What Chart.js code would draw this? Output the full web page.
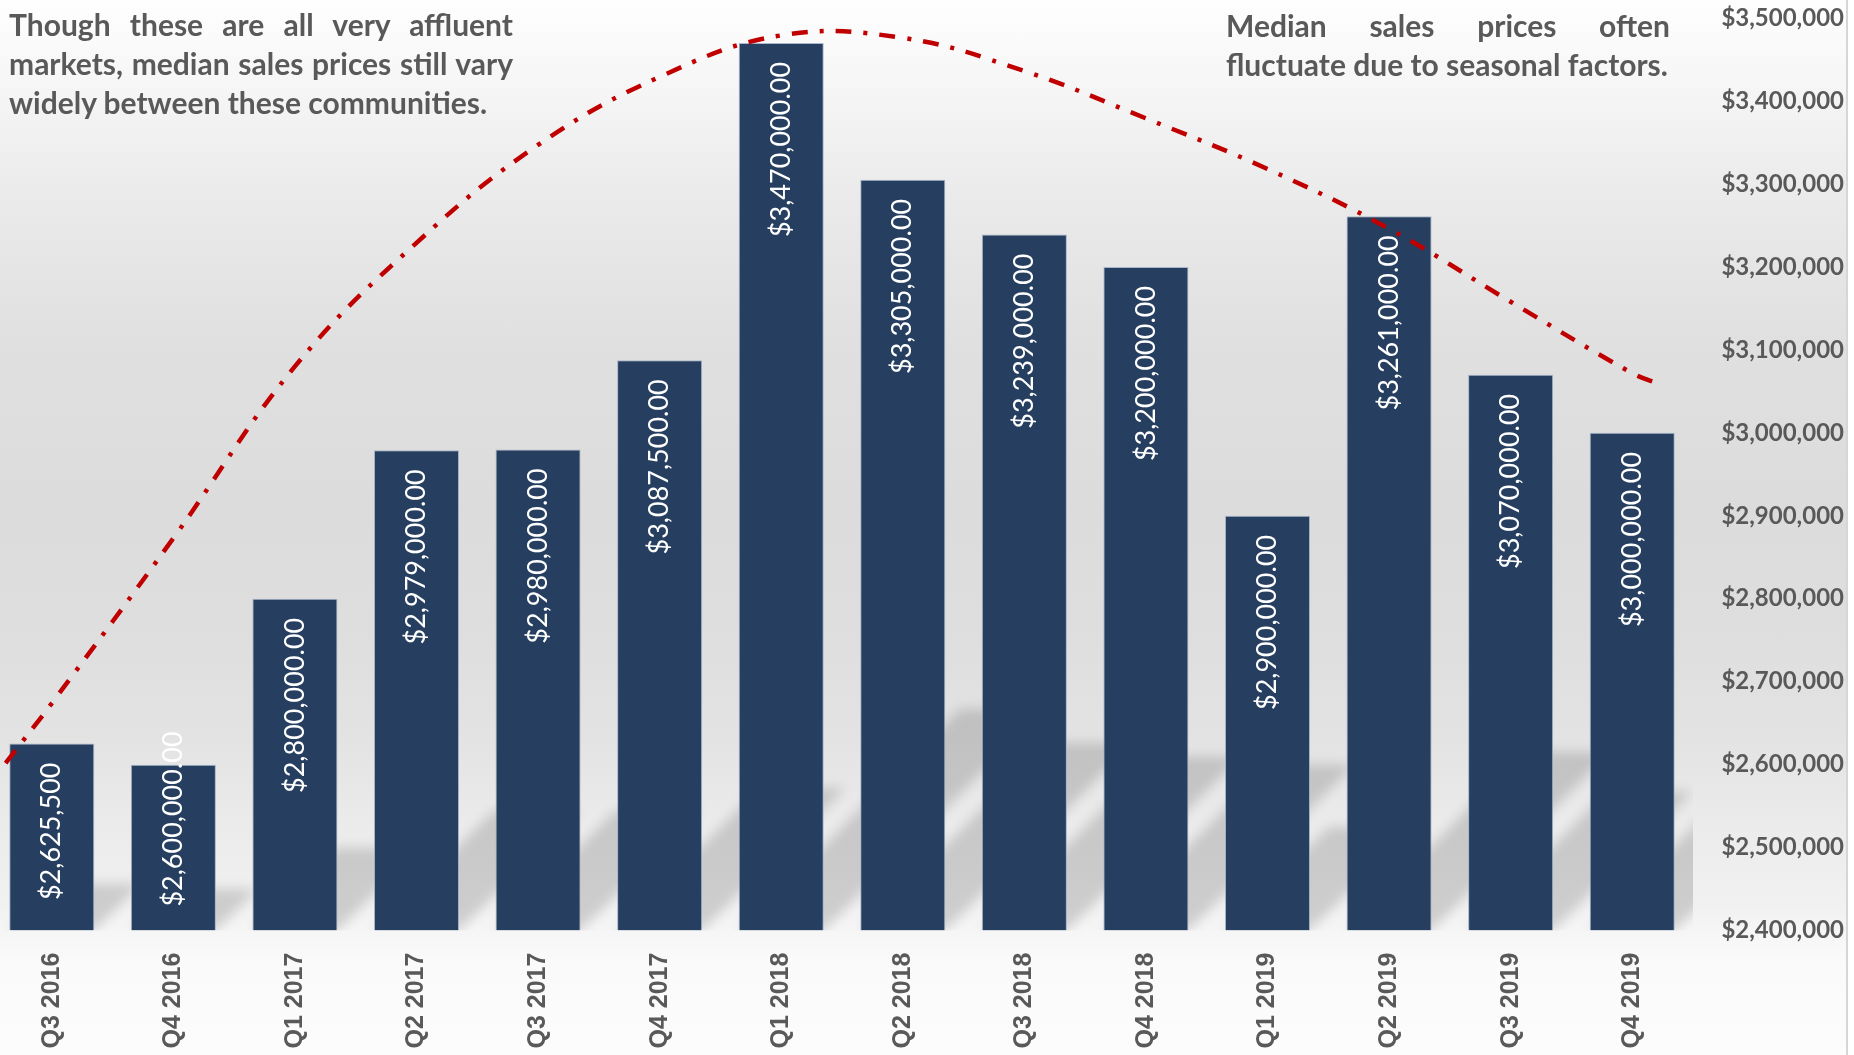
<!DOCTYPE html>
<html>
<head>
<meta charset="utf-8">
<script src="https://cdn.jsdelivr.net/npm/chart.js@4"></script>
<style>
  html, body { margin: 0; padding: 0; background: #ffffff; overflow: hidden; }
  #bg {
    position: absolute; left: 0; top: 0; width: 1846px; height: 1055px;
    background: linear-gradient(to bottom, #fefefe 0%, #f6f6f6 8%, #ebebeb 18%, #e0e0e0 32%, #dcdcdc 48%, #dedede 60%, #e3e3e3 70%, #ebebeb 78%, #f1f1f1 86%, #f6f6f6 88.5%, #fafafa 91%, #fcfcfc 100%);
  }
  #edge { position: absolute; left: 1846px; top: 0; width: 2px; height: 1055px; background: #d6d6d6; }
  #wrap { position: absolute; left: -9px; top: 0; width: 1863px; height: 1055px; }
  .note {
    position: absolute; font-family: Lato, sans-serif; font-weight: bold; font-size: 30px;
    line-height: 39px; color: #595959; text-align: justify; text-align-last: left;
  }
  #noteLeft { left: 9px; top: 5px; width: 504px; }
  #noteRight { left: 1226px; top: 6px; width: 444px; }
</style>
</head>
<body>
<div id="bg"></div>
<div id="edge"></div>
<div id="wrap"><canvas id="chart"></canvas></div>
<div class="note" id="noteLeft">Though these are all very affluent markets, median sales prices still vary widely between these communities.</div>
<div class="note" id="noteRight">Median sales prices often fluctuate due to seasonal factors.</div>
<script>
// quarters on the x axis
const quarters = ['Q3 2016', 'Q4 2016', 'Q1 2017', 'Q2 2017', 'Q3 2017', 'Q4 2017', 'Q1 2018',
  'Q2 2018', 'Q3 2018', 'Q4 2018', 'Q1 2019', 'Q2 2019', 'Q3 2019', 'Q4 2019'];

// median sales price per quarter
const medianPrices = [2625500, 2600000, 2800000, 2979000, 2980000, 3087500, 3470000,
  3305000, 3239000, 3200000, 2900000, 3261000, 3070000, 3000000];

// labels as printed on the bars
const priceLabels = ['$2,625,500', '$2,600,000.00', '$2,800,000.00', '$2,979,000.00', '$2,980,000.00',
  '$3,087,500.00', '$3,470,000.00', '$3,305,000.00', '$3,239,000.00', '$3,200,000.00',
  '$2,900,000.00', '$3,261,000.00', '$3,070,000.00', '$3,000,000.00'];

// trend line (x in category units)
const trendX = [-0.38, 0, 1, 2, 3, 4, 5, 6, 7, 8, 9, 10, 11, 12, 13, 13.24];
const trendValues = [2602000, 2674000, 2873000, 3080000, 3229000, 3347000, 3429000, 3479000,
  3476000, 3436000, 3379000, 3318000, 3246000, 3158000, 3072000, 3058000];

// y axis range
const yMin = 2400000;
const yMax = 3500000;
const yStep = 100000;

const textGray = '#595959';

// soft diagonal shadows behind the bars
const shadowPlugin = {
  id: 'barShadows',
  beforeDatasetsDraw(chart) {
    const meta = chart.getDatasetMeta(1);
    const ctx = chart.ctx;
    const area = chart.chartArea;
    ctx.save();
    ctx.beginPath();
    ctx.rect(area.left, area.top, area.right - area.left, area.bottom - area.top);
    ctx.clip();
    ctx.filter = 'blur(6px)';
    ctx.fillStyle = 'rgba(0,0,0,0.15)';
    meta.data.forEach(bar => {
      const half = bar.width / 2;
      const left = bar.x - half, right = bar.x + half;
      const base = area.bottom;
      const len = (base - bar.y) * 0.25;
      ctx.beginPath();
      ctx.moveTo(left, base);
      ctx.lineTo(right, base);
      ctx.lineTo(right + len, base - len);
      ctx.lineTo(left + len, base - len);
      ctx.closePath();
      ctx.fill();
    });
    ctx.restore();
  }
};

// vertical value labels inside the bars
const barLabelPlugin = {
  id: 'barLabels',
  afterDatasetDraw(chart, args) {
    if (args.index !== 1) return;
    const ctx = chart.ctx;
    const base = chart.chartArea.bottom;
    ctx.save();
    ctx.font = '27px Lato';
    ctx.fillStyle = '#ffffff';
    ctx.textBaseline = 'middle';
    ctx.textAlign = 'right';
    args.meta.data.forEach((bar, i) => {
      const text = priceLabels[i];
      const w = ctx.measureText(text).width;
      // inside end, but a label longer than its bar is pushed up past the top
      const top = Math.min(bar.y + 19, base - 24 - w);
      ctx.save();
      ctx.translate(bar.x, top);
      ctx.rotate(-Math.PI / 2);
      ctx.fillText(text, 0, 0);
      ctx.restore();
    });
    ctx.restore();
  }
};

new Chart(document.getElementById('chart'), {
  data: {
    labels: quarters,
    datasets: [
      {
        type: 'line',
        order: 0,
        xAxisID: 'xTrend',
        data: trendX.map((x, i) => ({ x: x, y: trendValues[i] })),
        borderColor: '#c00000',
        borderWidth: 4.5,
        borderDash: [16, 12, 4, 12],
        borderCapStyle: 'butt',
        tension: 0.4,
        pointRadius: 0,
        fill: false
      },
      {
        type: 'bar',
        order: 1,
        xAxisID: 'x',
        data: medianPrices,
        base: yMin,
        grouped: false,
        backgroundColor: '#263f60',
        borderColor: 'rgba(160,176,200,0.9)',
        borderWidth: 1,
        barPercentage: 0.7,
        categoryPercentage: 1.0
      }
    ]
  },
  options: {
    responsive: true,
    maintainAspectRatio: false,
    animation: false,
    layout: { padding: { top: 18, right: 10, left: 0, bottom: 0 } },
    plugins: {
      legend: { display: false },
      tooltip: { enabled: false }
    },
    scales: {
      x: {
        type: 'category',
        offset: true,
        grid: { display: false },
        border: { display: false },
        ticks: {
          maxRotation: 90,
          minRotation: 90,
          padding: 14,
          color: textGray,
          font: { family: '"Liberation Sans", Arial, sans-serif', weight: 'bold', size: 25 }
        },
        afterFit: (scale) => {
          scale.height = 124.4;
          scale.paddingLeft = 0;
          scale.paddingRight = 0;
        }
      },
      xTrend: {
        type: 'linear',
        display: false,
        min: -0.5,
        max: 13.5
      },
      y: {
        position: 'right',
        min: yMin,
        max: yMax,
        grid: { display: false },
        border: { display: false },
        ticks: {
          stepSize: yStep,
          padding: 28,
          crossAlign: 'far',
          color: textGray,
          font: { family: 'Lato, sans-serif', weight: 'bold', size: 24 },
          callback: (v) => '$' + Number(v).toLocaleString('en-US')
        },
        afterFit: (scale) => {
          scale.width = 151;
          scale.paddingTop = 0;
          scale.paddingBottom = 0;
        }
      }
    }
  },
  plugins: [shadowPlugin, barLabelPlugin]
});
</script>
</body>
</html>
